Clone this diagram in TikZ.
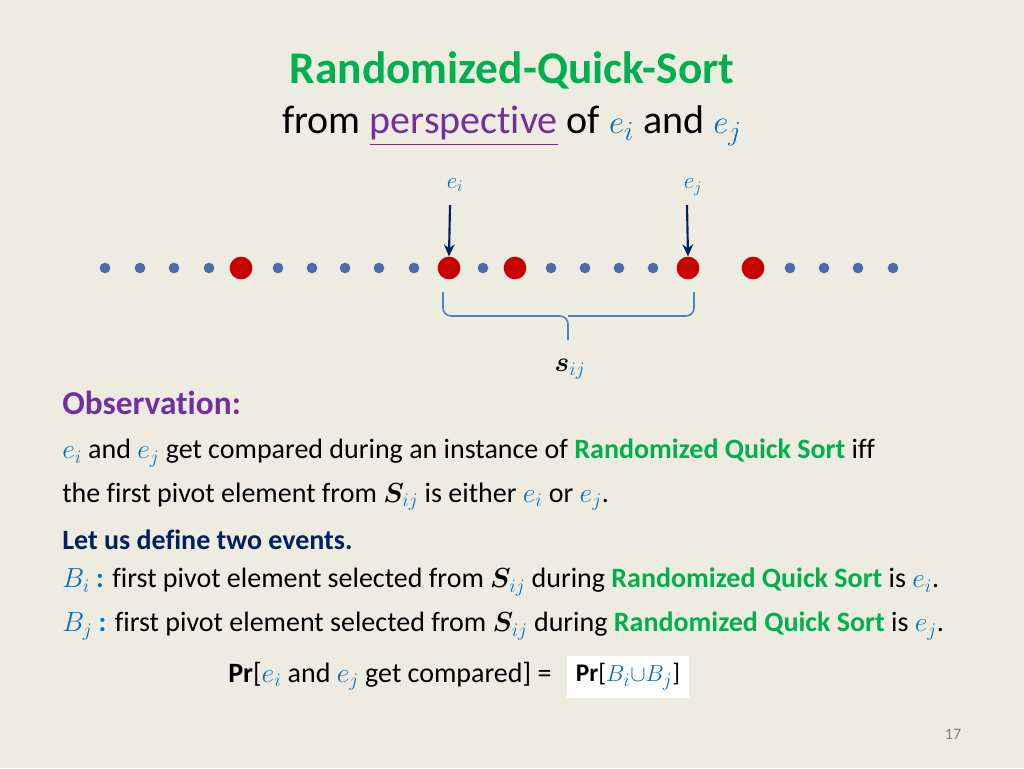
\documentclass[tikz,border=0pt]{standalone}
\usepackage{amsmath}
\usepackage{bm}
\usepackage{fontspec}
\setmainfont[Ligatures={NoCommon}]{Carlito}
\usetikzlibrary{arrows.meta}
\definecolor{bg}{RGB}{238,236,225}
\definecolor{tgreen}{RGB}{0,176,80}
\definecolor{purp}{RGB}{112,48,160}
\definecolor{navy}{RGB}{0,32,96}
\definecolor{mblue}{RGB}{0,112,192}
\definecolor{dotblue}{RGB}{70,110,170}
\definecolor{dred}{RGB}{200,0,0}
\definecolor{brace}{RGB}{80,130,190}
\newcommand{\mb}[1]{\textcolor{mblue}{$#1$}}
\newcommand{\rqs}{\textcolor{tgreen}{\textbf{Randomized Quick Sort}}}
\begin{document}
\begin{tikzpicture}[x=0.75pt,y=-0.75pt,
  sdot/.style={circle,fill=dotblue,inner sep=0pt,minimum size=8pt},
  bdot/.style={circle,fill=dred,inner sep=0pt,minimum size=17pt},
  txt/.style={anchor=west,inner sep=0pt,font=\fontsize{21}{25}\selectfont},
  arr/.style={-{Stealth[length=9pt,width=8pt]},line width=1.6pt,draw=navy}]
\fill[bg] (0,0) rectangle (1024,768);
\useasboundingbox (0,0) rectangle (1024,768);
\node[font=\fontsize{34}{40}\selectfont\bfseries,text=tgreen] (title) at (512,70) {Randomized-Quick-Sort};
\node[font=\fontsize{30}{36}\selectfont] (sub) at (512,126) {from \textcolor{purp}{\underline{perspective}} of \mb{e_i} and \mb{e_j}};
\foreach \x [count=\k] in {105,140,174,209,278,312,345,379,414,483,551,585,619,653,790,824,858,893}
  \node[sdot] (s\k) at (\x,268) {};
\foreach \x [count=\k] in {241,449,515,688,753}
  \node[bdot] (b\k) at (\x,268) {};
\node[font=\fontsize{17}{20}\selectfont] (li) at (455,185) {\mb{e_i}};
\node[font=\fontsize{17}{20}\selectfont] (lj) at (693,187) {\mb{e_j}};
\coordinate (ai) at (450,205); \coordinate (aj) at (687,205);
\draw[arr] (ai) -- (b2.north);
\draw[arr] (aj) -- (b4.north);
\draw[brace,line width=1.2pt,rounded corners=6pt] (443,292) -- (443,316) -- (568,316) -- (568,340);
\draw[brace,line width=1.2pt,rounded corners=6pt] (694,292) -- (694,316) -- (568,316);
\node[font=\fontsize{21}{25}\selectfont] (sij) at (570,369) {$\bm{s}_{\textcolor{mblue}{ij}}$};
\node[txt,font=\fontsize{25}{30}\selectfont\bfseries,text=purp] (obs) at (62,403) {Observation:};
\node[txt] (l1) at (62,453) {\mb{e_i} and \mb{e_j} get compared during an instance of \rqs{} iff};
\node[txt] (l2) at (62,497) {the first pivot element from $\bm{S}_{\textcolor{mblue}{ij}}$ is either \mb{e_i} or \mb{e_j}.};
\node[txt,font=\fontsize{21}{25}\selectfont\bfseries,text=navy] (l3) at (62,540) {Let us define two events.};
\node[txt] (l4) at (62,582) {\mb{B_i} \textcolor{mblue}{\textbf{:}} first pivot element selected from $\bm{S}_{\textcolor{mblue}{ij}}$ during \rqs{} is \mb{e_i}.};
\node[txt] (l5) at (62,626) {\mb{B_j} \textcolor{mblue}{\textbf{:}} first pivot element selected from $\bm{S}_{\textcolor{mblue}{ij}}$ during \rqs{} is \mb{e_j}.};
\node[txt] (l6) at (228,676) {\textbf{Pr}[\mb{e_i} and \mb{e_j} get compared] =};
\node[fill=white,minimum width=92pt,minimum height=31pt,font=\fontsize{19}{23}\selectfont] (box) at (628,677) {\textbf{Pr}[\mb{B_i}{\color{mblue}$\cup$}\mb{B_j}]};
\node[font=\fontsize{12}{14}\selectfont,text=gray] (pg) at (953,734) {17};
\end{tikzpicture}
\end{document}
